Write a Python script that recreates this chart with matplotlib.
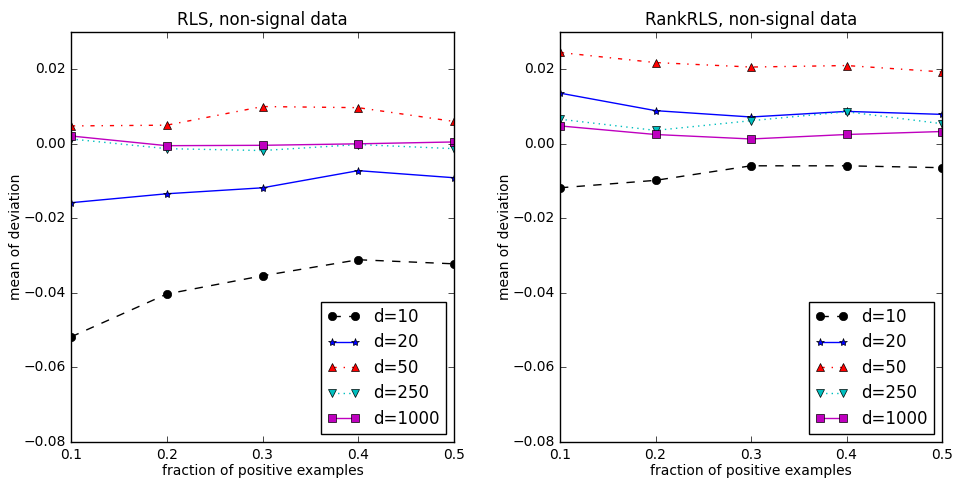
import matplotlib
matplotlib.use("Agg")
import matplotlib.pyplot as plt

plt.style.use('classic')

fractions = [0.1, 0.2, 0.3, 0.4, 0.5]
labels = ["d=10", "d=20", "d=50", "d=250", "d=1000"]

rls_d10 = [-0.0518, -0.0403, -0.0354, -0.0311, -0.0322]
rls_d20 = [-0.0158, -0.0134, -0.0118, -0.0072, -0.0091]
rls_d50 = [0.0048, 0.0050, 0.0100, 0.0097, 0.0060]
rls_d250 = [0.0013, -0.0013, -0.0018, -0.0002, -0.0013]
rls_d1000 = [0.0021, -0.0005, -0.0004, 0.0000, 0.0005]

rank_d10 = [-0.0118, -0.0098, -0.0059, -0.0059, -0.0064]
rank_d20 = [0.0136, 0.0089, 0.0072, 0.0087, 0.0079]
rank_d50 = [0.0245, 0.0218, 0.0206, 0.0210, 0.0193]
rank_d250 = [0.0066, 0.0036, 0.0062, 0.0086, 0.0054]
rank_d1000 = [0.0048, 0.0025, 0.0013, 0.0025, 0.0033]

styles = ['k--o', 'b-*', 'r-.^', 'c:v', 'm-s']

fig = plt.figure(figsize=(9.56, 4.79), dpi=100)
ax1 = fig.add_axes([71/956, 1-442/479, 383/956, 410/479])
ax2 = fig.add_axes([560/956, 1-442/479, 382/956, 410/479])

for ax, series, title in [
    (ax1, [rls_d10, rls_d20, rls_d50, rls_d250, rls_d1000], "RLS, non-signal data"),
    (ax2, [rank_d10, rank_d20, rank_d50, rank_d250, rank_d1000], "RankRLS, non-signal data"),
]:
    for vals, st, lab in zip(series, styles, labels):
        ax.plot(fractions, vals, st, label=lab)
    ax.set_xlim(0.1, 0.5)
    ax.set_ylim(-0.08, 0.03)
    ax.set_yticks([-0.08, -0.06, -0.04, -0.02, 0.0, 0.02])
    ax.set_xticks([0.1, 0.2, 0.3, 0.4, 0.5])
    ax.set_title(title, fontsize=12)
    ax.set_xlabel("fraction of positive examples", fontsize=10, labelpad=2)
    ax.set_ylabel("mean of deviation", fontsize=10, labelpad=0)
    ax.tick_params(labelsize=10)
    ax.legend(loc='lower right', fontsize=12, numpoints=2,
              labelspacing=0.45, borderpad=0.35)

fig.savefig("out.png", dpi=100)
